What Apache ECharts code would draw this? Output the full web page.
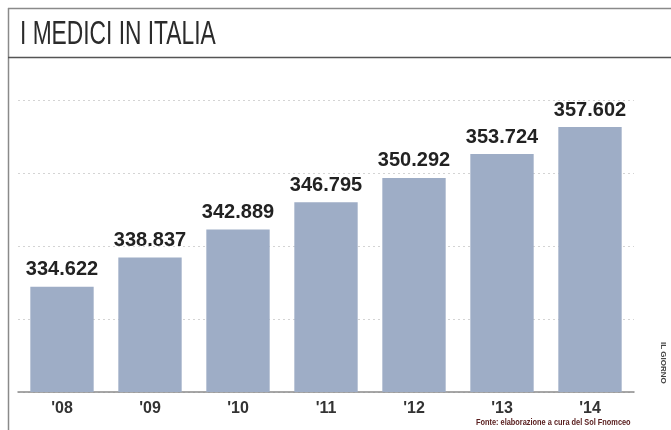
<!DOCTYPE html>
<html>
<head>
<meta charset="utf-8">
<script src="https://cdn.jsdelivr.net/npm/echarts@6/dist/echarts.min.js"></script>
<style>
  html, body { margin: 0; padding: 0; background: #fff; }
  #chart { width: 671px; height: 430px; }
</style>
</head>
<body>
<div id="chart"></div>
<script>
// I medici in Italia - bar chart
const years = ["'08", "'09", "'10", "'11", "'12", "'13", "'14"];
const doctors = [334622, 338837, 342889, 346795, 350292, 353724, 357602];
const gridSteps = [0, 1, 2, 3, 4];

const chart = echarts.init(document.getElementById('chart'));

// italian thousands separator
const fmt = v => String(v).replace(/\B(?=(\d{3})+(?!\d))/g, '.');

const option = {
  backgroundColor: '#fff',
  animation: false,
  grid: { left: 18, right: 37, top: 100, bottom: 38 },
  xAxis: {
    type: 'category',
    data: years,
    axisLine: { lineStyle: { color: '#8a8a8a', width: 1.5 } },
    axisTick: { show: false },
    splitLine: { show: false },
    axisLabel: {
      color: '#333',
      fontFamily: '"Liberation Sans", Arial, sans-serif',
      fontWeight: 'bold',
      fontSize: 16,
      margin: 9,
    },
  },
  yAxis: [
    {
      type: 'value',
      min: 319500,
      max: 361500,
      show: false,
    },
    {
      // only used for the dotted guide lines
      type: 'value',
      position: 'left',
      min: gridSteps[0],
      max: gridSteps[gridSteps.length - 1],
      interval: 1,
      axisLine: { show: false },
      axisTick: { show: false },
      axisLabel: { show: false },
      splitLine: {
        show: true,
        lineStyle: { color: '#d4d4d4', type: [2, 3], width: 1 },
      },
    },
  ],
  series: [
    {
      type: 'bar',
      yAxisIndex: 0,
      data: doctors,
      barCategoryGap: '28%',
      itemStyle: { color: '#9eadc6' },
      label: {
        show: true,
        position: 'top',
        distance: 7,
        formatter: p => fmt(p.value),
        color: '#222',
        fontFamily: '"Liberation Sans", Arial, sans-serif',
        fontWeight: 'bold',
        fontSize: 20,
      },
      z: 3,
    },
  ],
  graphic: [
    { type: 'line', shape: { x1: 8, y1: 8.5, x2: 671, y2: 8.5 }, style: { stroke: '#8a8a8a', lineWidth: 1.5 } },
    { type: 'line', shape: { x1: 8.5, y1: 8, x2: 8.5, y2: 430 }, style: { stroke: '#8a8a8a', lineWidth: 1.5 } },
    { type: 'line', shape: { x1: 8, y1: 57.5, x2: 671, y2: 57.5 }, style: { stroke: '#555', lineWidth: 1.5 } },
    {
      type: 'text',
      x: 20,
      y: 18,
      scaleX: 0.69,
      style: {
        text: 'I MEDICI IN ITALIA',
        fill: '#2b2b2b',
        font: '33px "Liberation Sans", Arial, sans-serif',
      },
    },
    {
      type: 'text',
      x: 476,
      y: 418,
      scaleX: 0.82,
      style: {
        text: 'Fonte: elaborazione a cura del Sol Fnomceo',
        fill: '#5a2020',
        font: 'bold 9px "Liberation Sans", sans-serif',
      },
    },
    {
      type: 'text',
      x: 667,
      y: 342,
      rotation: -Math.PI / 2,
      style: {
        text: 'IL GIORNO',
        fill: '#444',
        font: 'bold 8px "Liberation Sans", sans-serif',
      },
    },
  ],
};

chart.setOption(option);
</script>
</body>
</html>
